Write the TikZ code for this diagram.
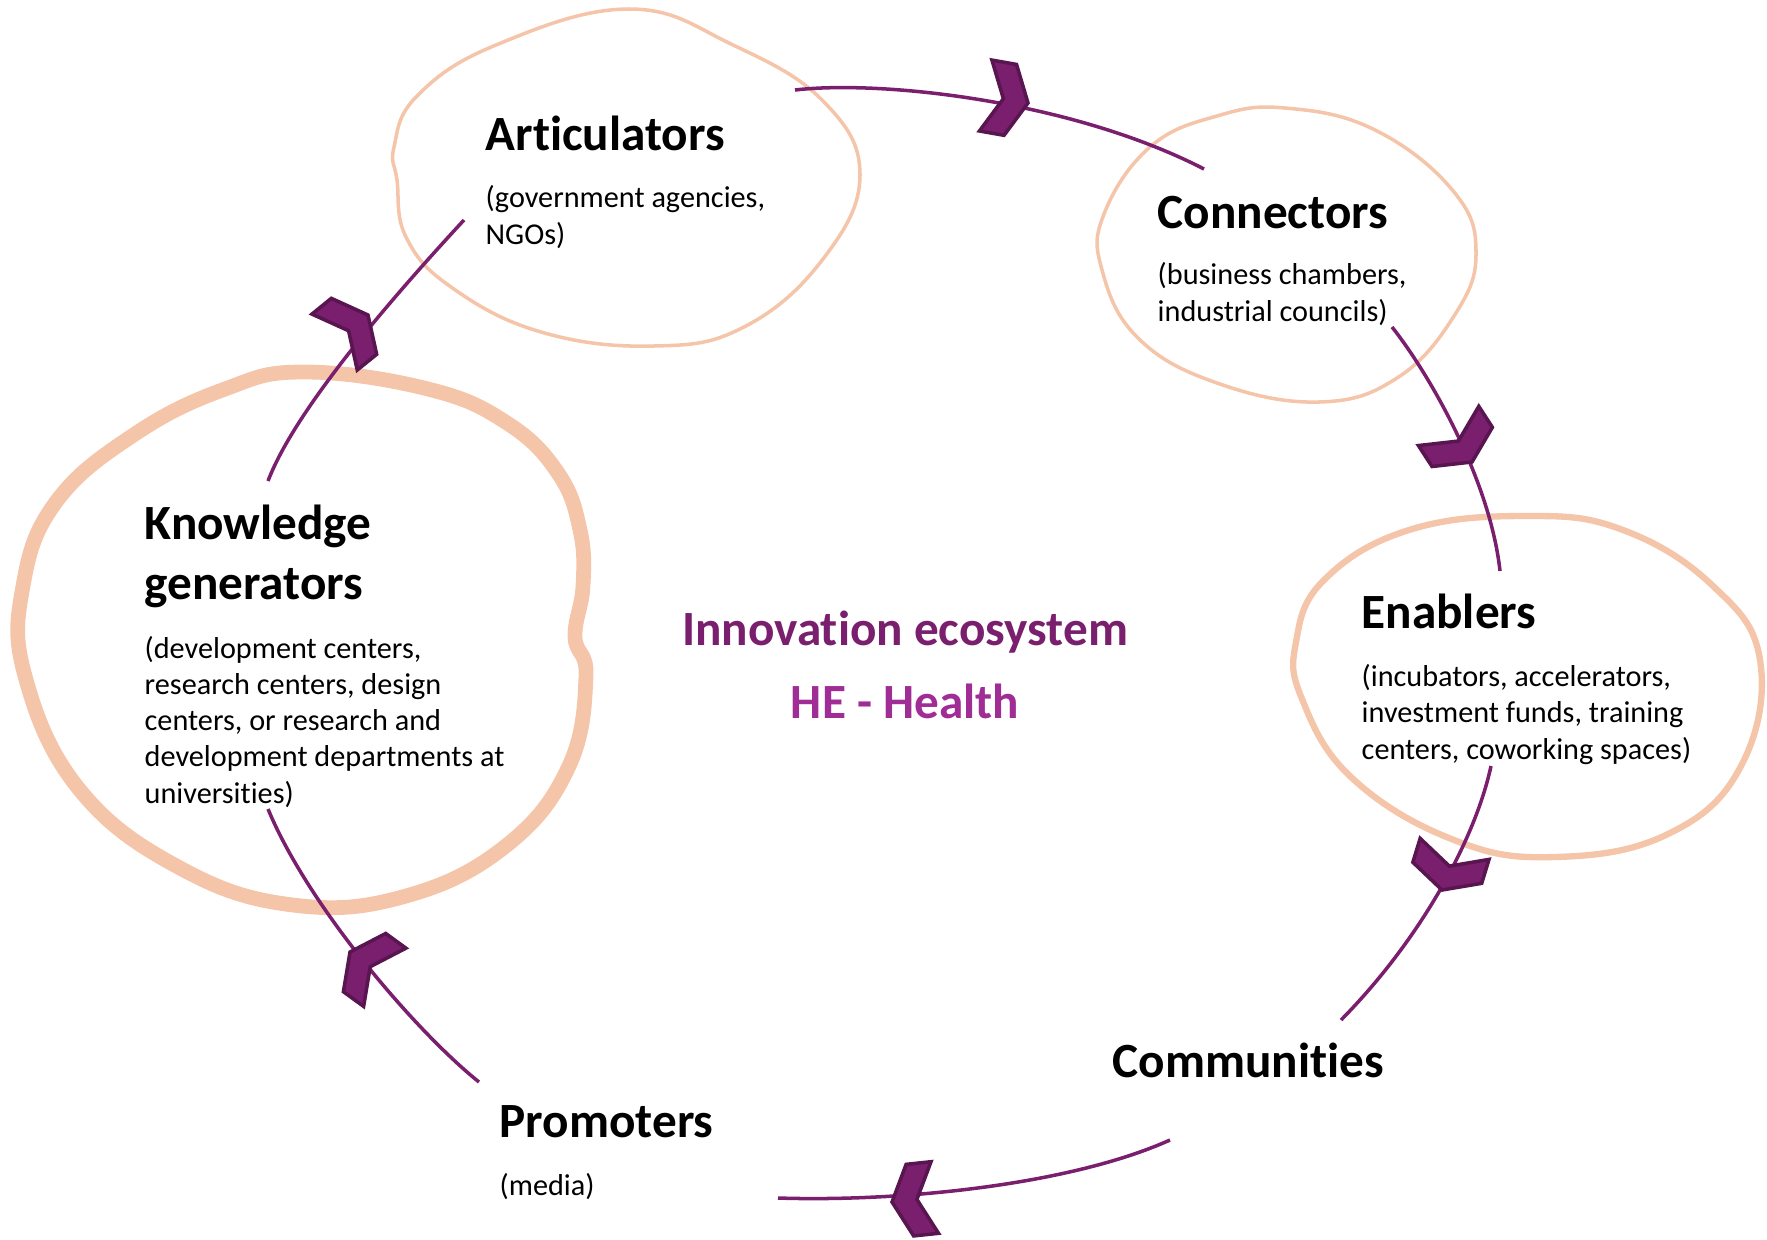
\documentclass[tikz,border=0pt]{standalone}
\usepackage{fontspec}
\setmainfont{Carlito}[Ligatures=NoCommon]
\definecolor{eco}{HTML}{7A1E6E}
\definecolor{ecodark}{HTML}{58154F}
\definecolor{health}{HTML}{A02D96}
\definecolor{blob}{HTML}{F5C5AA}
\tikzset{
  actor/.style={anchor=base west,inner sep=0pt,font=\fontsize{14}{17}\selectfont\bfseries,align=left},
  role/.style={anchor=base west,inner sep=0pt,font=\fontsize{8.6}{10.3}\selectfont,align=left},
  flow/.style={eco,line width=1pt},
  chev/.pic={\draw[ecodark,fill=eco,line width=1pt] (0,0)--(-18,-36)--(-43,-36)--(-25,0)--(-43,36)--(-18,36)--cycle;}
}
\begin{document}
\begin{tikzpicture}[x=0.01cm,y=-0.01cm]
\useasboundingbox (0,0) rectangle (1767,1239);
% blobs
\draw[blob,line width=1pt] plot[smooth cycle,tension=0.7] coordinates {(629,9) (733,45) (823,101) (860,175) (823,259) (744,327) (654,346) (541,332) (451,287) (406,237) (397,180) (394,147) (417,96) (496,45)};
\draw[blob,line width=1pt] plot[smooth cycle,tension=0.7] coordinates {(1285,108) (1375,130) (1454,192) (1476,254) (1454,316) (1397,378) (1319,402) (1217,383) (1138,338) (1102,270) (1104,214) (1150,147) (1217,116)};
\draw[blob,line width=1.8pt] plot[smooth cycle,tension=0.7] coordinates {(1527,516) (1623,530) (1713,586) (1760,660) (1741,766) (1668,834) (1555,857) (1454,840) (1352,778) (1302,699) (1296,642) (1324,580) (1409,530)};
\draw[blob,line width=4.2pt] plot[smooth cycle,tension=0.7] coordinates {(304,372) (428,389) (507,423) (558,473) (580,530) (583,586) (575,637) (586,676) (569,766) (507,845) (406,896) (293,905) (180,868) (79,789) (25,676) (23,586) (56,502) (135,434) (225,389)};
% ends of the flows
\coordinate (a1) at (795,90);   \coordinate (c0) at (1204,169);
\coordinate (c1) at (1392,327); \coordinate (e0) at (1500,571);
\coordinate (e1) at (1491,766); \coordinate (m0) at (1341,1020);
\coordinate (m1) at (1170,1140);\coordinate (p0) at (778,1198);
\coordinate (p1) at (479,1082); \coordinate (k0) at (268,809);
\coordinate (k1) at (268,481);  \coordinate (a0) at (464,220);
\draw[flow] (a1) .. controls (880,80) and (1070,100) .. (c0);
\draw[flow] (c1) .. controls (1430,375) and (1490,480) .. (e0);
\draw[flow] (e1) .. controls (1475,840) and (1420,940) .. (m0);
\draw[flow] (m1) .. controls (1070,1185) and (900,1202) .. (p0);
\draw[flow] (p1) .. controls (420,1035) and (310,910) .. (k0);
\draw[flow] (k1) .. controls (295,410) and (390,300) .. (a0);
% chevrons
\pic[rotate=-10] at (1028,103) {chev};
\pic[rotate=-57] at (1472,462) {chev};
\pic[rotate=-107] at (1442,890) {chev};
\pic[rotate=186] at (892,1202) {chev};
\pic[rotate=144] at (350,952) {chev};
\pic[rotate=39] at (368,315) {chev};
% texts (base = last line)
\node[actor] (art) at (485,150) {Articulators};
\node[role] (artr) at (485,244) {(government agencies,\\NGOs)};
\node[actor] (con) at (1157,228) {Connectors};
\node[role] (conr) at (1157,321) {(business chambers,\\industrial councils)};
\node[actor] (ena) at (1361,628) {Enablers};
\node[role] (enar) at (1361,759) {(incubators, accelerators,\\investment funds, training\\centers, coworking spaces)};
\node[actor] (kno) at (144,599) {Knowledge\\generators};
\node[role] (knor) at (144,803) {(development centers,\\research centers, design\\centers, or research and\\development departments at\\universities)};
\node[actor] (com) at (1112,1077) {Communities};
\node[actor] (pro) at (499,1137) {Promoters};
\node[role] (pror) at (499,1195) {(media)};
\node[actor,anchor=base,text=eco] (eco) at (905,645) {Innovation ecosystem};
\node[actor,anchor=base,text=health] (he) at (905,718) {HE - Health};
\end{tikzpicture}
\end{document}
